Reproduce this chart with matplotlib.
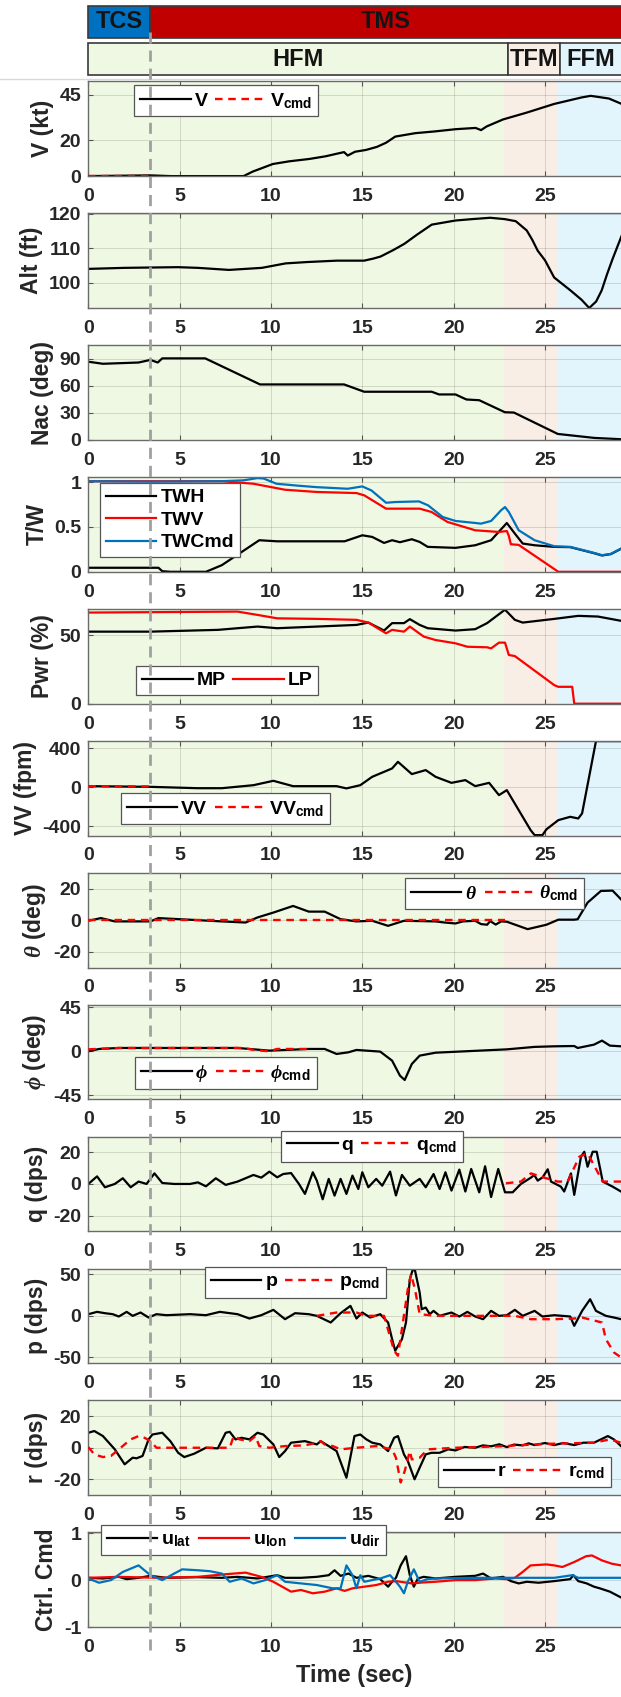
import numpy as np
import matplotlib.pyplot as plt
from matplotlib.patches import Rectangle
from matplotlib.lines import Line2D
from matplotlib.ticker import FuncFormatter

plt.rcParams['font.family'] = ['Liberation Sans', 'DejaVu Sans']
plt.rcParams['font.weight'] = 'bold'
plt.rcParams['axes.labelweight'] = 'bold'
plt.rcParams['axes.unicode_minus'] = False
plt.rcParams['mathtext.fontset'] = 'custom'
plt.rcParams['mathtext.rm'] = 'Liberation Sans:bold'
plt.rcParams['mathtext.bf'] = 'Liberation Sans:bold'
plt.rcParams['mathtext.sf'] = 'Liberation Sans:bold'
plt.rcParams['mathtext.it'] = 'Liberation Serif:italic'

# ---- phases / modes ----
mode_names = ['TCS', 'TMS']
mode_start = [0, 3.4]
mode_end = [3.4, 30]
mode_colors = ['#0070C0', '#C00000']

phase_names = ['HFM', 'TFM', 'FFM']
phase_box_start = [0, 22.98, 25.8]
phase_box_end = [22.98, 25.8, 30]
shade_start = [0, 22.77, 25.65]
shade_end = [22.77, 25.65, 30]
phase_colors = ['#EFF8E3', '#F8EEE5', '#E2F4FC']
switch_time = 3.4
t_max = 29.16

# ---- V (kt) ----
t_V = [0, 3.4, 4.5, 8.5, 9.0, 10.1, 11.0, 12.1, 13.0, 13.6, 14.0, 14.2, 14.6, 15.2, 15.8, 16.3,
       16.8, 17.9, 19.0, 20.1, 21.2, 21.5, 21.8, 22.7, 24.0, 25.5, 27.0, 27.5, 28.5, 29.2]
V = [0, 0.4, 0, 0, 2.5, 6.7, 8.2, 9.5, 11, 12.4, 13.3, 11.4, 13.5, 14.5, 16.2, 18.5,
     21.9, 23.8, 24.8, 26.0, 26.7, 25.5, 27.5, 31.4, 35.2, 40.0, 43.6, 44.5, 43.0, 40.0]
t_Vcmd = [0, 3.4]
Vcmd = [0, 0]

# ---- Alt (ft) ----
t_alt = [0, 2, 4.9, 6, 7.7, 9.5, 10.8, 12, 13.6, 15.1, 15.6, 16.0, 16.7, 17.3, 18.0, 18.8, 20.1,
         21.0, 22.0, 22.8, 23.4, 24.0, 24.3, 24.6, 25.0, 25.5, 26.4, 27.0, 27.42, 27.8, 28.1, 28.4,
         28.7, 29.0, 29.2]
alt = [104.0, 104.3, 104.5, 104.3, 103.7, 104.3, 105.6, 106.0, 106.4, 106.4, 107.0, 107.6, 109.5,
       111.3, 114.0, 116.9, 118.1, 118.5, 118.9, 118.5, 117.9, 115.2, 112.5, 109.3, 106.5, 101.5,
       97.7, 95.0, 92.6, 94.5, 97.7, 102.5, 106.9, 111.0, 113.7]

# ---- Nacelle (deg) ----
t_nac = [0, 0.8, 2.75, 3.4, 3.8, 4.05, 6.4, 9.4, 14.0, 15.1, 18.8, 19.2, 20.1, 20.7, 21.4, 22.8,
         23.3, 25.7, 27.7, 29.2]
nac = [86.7, 84.4, 85.8, 88.7, 85.8, 90.4, 90.4, 61.5, 61.5, 53.4, 53.4, 50.4, 50.4, 44.8, 44.0,
       30.7, 30.3, 6.6, 2.2, 0.7]

# ---- T/W ----
t_twc = [0, 3.4, 7.3, 8.5, 9.26, 9.6, 10.3, 11.5, 12.5, 14.2, 15.0, 15.5, 16.3, 16.8, 18.1, 18.6,
         19.4, 20.1, 21.2, 21.5, 22.05, 22.59, 22.81, 23.02, 23.56, 24.43, 25.51, 26.38, 27.68,
         28.12, 28.6, 29.16]
twc = [1.01, 1.005, 1.01, 1.02, 1.045, 1.04, 0.982, 0.96, 0.944, 0.926, 0.952, 0.907, 0.77, 0.778,
       0.785, 0.741, 0.611, 0.567, 0.544, 0.537, 0.567, 0.685, 0.722, 0.667, 0.463, 0.352, 0.285,
       0.278, 0.211, 0.185, 0.2, 0.259]
t_twv = [0, 7.3, 9.04, 10.77, 12.51, 14.68, 15.11, 16.3, 18.14, 18.79, 19.66, 21.18, 22.48, 22.91,
         23.02, 23.13, 23.56, 25.73, 29.16]
twv = [1.01, 1.01, 0.982, 0.915, 0.89, 0.878, 0.852, 0.704, 0.704, 0.667, 0.556, 0.463, 0.444,
       0.455, 0.40, 0.307, 0.30, 0.0, 0.0]
t_twh = [0, 3.84, 4.05, 4.49, 6.44, 7.31, 9.36, 10.34, 14.03, 15.0, 15.54, 16.19, 16.63, 17.06,
         17.71, 18.14, 18.58, 20.1, 21.18, 22.05, 22.91, 23.35, 23.78, 24.43, 25.51, 26.38, 27.68,
         28.12, 28.6, 29.16]
twh = [0.045, 0.045, 0.007, 0.0, 0.0, 0.074, 0.352, 0.34, 0.34, 0.407, 0.389, 0.322, 0.352, 0.33,
       0.363, 0.333, 0.278, 0.267, 0.296, 0.352, 0.544, 0.426, 0.315, 0.296, 0.278, 0.275, 0.208,
       0.182, 0.197, 0.256]

# ---- Power (%) ----
t_lp = [0, 8.17, 9.26, 10.34, 12.51, 14.68, 15.33, 16.3, 16.63, 17.28, 17.6, 18.36, 19.01, 20.1,
        20.75, 21.83, 22.05, 22.48, 22.81, 23.02, 23.35, 25.51, 25.73, 26.49, 26.6, 29.16]
lp = [66.4, 67.1, 64.7, 62.2, 61.8, 61.1, 59.1, 51.3, 53.8, 52.5, 56.2, 48.9, 46.4, 44.0, 41.5,
      41.1, 40.3, 44.5, 44.5, 35.5, 34.7, 13.5, 12.3, 12.3, 0.0, 0.0]
t_mp = [0, 3.4, 7.09, 9.26, 10.34, 14.68, 15.33, 16.19, 16.63, 17.28, 17.6, 18.14, 18.58, 20.1,
        21.18, 21.83, 22.81, 23.35, 23.78, 25.51, 26.82, 27.9, 29.16]
mp = [52.5, 52.5, 53.8, 56.2, 55.0, 57.4, 59.1, 53.3, 58.7, 58.7, 61.6, 57.4, 55.0, 53.3, 54.3,
      58.7, 68.5, 61.1, 59.1, 61.8, 64.0, 63.5, 60.4]

# ---- VV (fpm) ----
t_vv = [0, 3.4, 6.0, 7.31, 9.04, 10.13, 11.21, 13.59, 14.13, 14.89, 15.54, 16.63, 16.95, 17.71,
        18.47, 19.01, 19.88, 20.64, 21.18, 21.94, 22.48, 22.91, 24.21, 24.43, 24.86, 25.08, 25.73,
        26.38, 26.82, 27.03, 27.79, 29.16]
vv = [13, 6, -8, -8, 23, 68, 13, 13, -10, 23, 109, 195, 263, 137, 178, 109, 47, 75, 13, 47, -79,
      -28, -438, -490, -490, -430, -336, -302, -319, -267, 476, 476]
t_vvcmd = [0, 3.4]
vvcmd = [13, 10]

# ---- theta (deg) ----
t_th = [0, 0.69, 1.45, 3.4, 3.84, 6.0, 7.31, 8.61, 9.26, 10.13, 11.21, 12.07, 12.94, 13.81, 14.68,
        15.54, 16.41, 17.28, 19.01, 19.5, 20.1, 20.5, 21.18, 21.5, 21.83, 22.0, 22.3, 22.6, 22.91,
        24.05, 25.08, 25.73, 26.6, 26.79, 27.33, 28.06, 28.7, 29.16]
th = [-0.4, 1.3, -0.8, -0.8, 1.3, 0, -0.8, -1.5, 1.7, 4.8, 9.0, 5.4, 5.4, 0.6, -0.8, -0.4, -3.6,
      -0.4, -0.8, -1.5, -2.1, -0.8, -0.4, -2.5, -2.9, -0.6, -2.8, -0.8, -1.0, -5.7, -2.9, 0.3, 0.3,
      0.6, 11.1, 18.5, 18.7, 13.2]
t_thcmd = [0, 22.8]
thcmd = [0, 0]

# ---- phi (deg) ----
t_ph = [0, 0.59, 1.67, 8.17, 9.91, 12.07, 12.94, 13.59, 14.24, 14.68, 15.98, 16.63, 17.06, 17.32,
        17.71, 18.14, 19.01, 21.18, 22.91, 24.43, 25.51, 26.6, 26.79, 27.68, 28.12, 28.55, 29.16]
ph = [0, 2.4, 3.4, 3.4, 0.7, 2.4, 2.4, -2.7, -1.0, 1.4, -0.3, -9.5, -24.8, -29.2, -12.9, -4.4,
      -1.4, 0.5, 2.0, 4.5, 5.1, 5.4, 3.4, 6.8, 10.9, 5.8, 5.1]
t_phcmd = [0, 1.67, 8.5, 9.04, 9.9, 10.34, 12.07]
phcmd = [2.0, 3.4, 3.4, 1.5, 0.0, 2.4, 2.4]

# ---- q (dps) ----
t_q = [0, 0.48, 0.91, 1.45, 1.89, 2.32, 2.75, 3.19, 3.62, 4.05, 4.70, 5.57, 6.0, 6.44, 6.98, 7.52,
       8.17, 9.04, 9.47, 9.91, 10.34, 10.67, 11.10, 11.53, 11.86, 12.29, 12.51, 12.83, 13.16, 13.48,
       13.81, 14.13, 14.46, 14.78, 15.0, 15.33, 15.76, 16.09, 16.52, 16.84, 17.17, 17.60, 18.14,
       18.47, 18.90, 19.23, 19.55, 19.88, 20.31, 20.64, 20.96, 21.40, 21.72, 22.05, 22.44, 22.81,
       23.23, 23.68, 24.23, 24.41, 24.6, 24.87, 25.15, 25.33, 25.87, 26.05, 26.42, 26.6, 26.97,
       27.15, 27.33, 27.61, 27.83, 28.16, 28.7, 29.16]
q = [0, 4.8, -2.1, 0, 3.6, -2.1, 1.5, 0, 6.7, 0.6, 0, 0, 1.0, -1.5, 3.6, -0.6, 1.5, 5.7, 4.0, 7.8,
     4.2, 6.3, 6.9, 0, -6.3, 7.4, 2.1, -9.7, 3.2, -7.4, 3.2, -6.3, 5.3, -3.2, 7.4, -2.1, 3.2, -1.1,
     7.8, -7.3, 5.7, -1.1, 3.2, -2.1, 6.3, -3.2, 7.4, -4.2, 9.1, -4.8, 9.5, -5.3, 11.2, -8.3, 9.5,
     -5.3, -5.3, 0, 4.0, 5.7, 2.1, 4.2, 9.3, 1.5, -1.7, -4.8, 6.7, -6.9, 17.3, 20.4, 10.9, 20.4,
     20.4, 1.5, -1.7, -4.8]
t_qcmd = [22.86, 23.68, 24.23, 24.78, 25.69, 26.24, 26.88, 27.33, 28.16, 29.16]
qcmd = [0.4, 1.5, 6.7, 4.6, 1.5, 1.5, 17.3, 19.4, 1.5, 1.5]

# ---- p (dps) ----
t_p = [0, 0.48, 0.91, 1.34, 1.67, 2.10, 2.43, 2.86, 3.30, 3.73, 4.27, 5.57, 6.44, 7.20, 8.17, 8.82,
       9.47, 10.13, 10.77, 11.32, 12.07, 12.51, 13.27, 13.81, 14.35, 14.68, 15.0, 15.43, 15.98,
       16.41, 16.63, 16.80, 17.17, 17.39, 17.60, 17.75, 17.88, 18.14, 18.25, 18.47, 18.69, 18.90,
       19.23, 19.88, 20.31, 20.75, 21.18, 21.61, 22.05, 22.48, 22.91, 23.35, 23.78, 24.43, 24.86,
       25.51, 26.38, 26.60, 27.03, 27.47, 27.79, 28.33, 28.77, 29.16]
p = [2, 4.8, 3.2, 2, -0.8, 4.8, 0, 4, -2, 2, 0.8, 2, 0.8, 4.8, 2, -3.2, 0.8, 7.2, -4, 3.2, 2, 0,
     -8, 3.2, 12, -3.2, 4, -2, 2, -8, -28, -42, -28, -8, 44, 55, 55, 28, 8, 10, 2, 6, 0, 4, -0.8,
     4.8, -0.8, -4, 6, 0, 0.8, 7.2, 0, 6, -0.8, 0.8, -0.8, -12, 6, 20, 6, 0, -2, -4]
t_pcmd = [12.51, 13.59, 14.68, 15.22, 16.19, 16.74, 16.95, 17.49, 17.67, 17.88, 18.14, 19.01, 23.35,
          24.21, 25.51, 26.60, 27.03, 28.12, 28.33, 28.77, 29.16]
pcmd = [0, 4, 4, 0, 0, -42, -48, 32, 50, 32, 2, 0, 0, -4, -4, -3.2, -2, -8, -28, -44, -50]

# ---- r (dps) ----
t_r = [0, 0.33, 0.80, 1.45, 1.99, 2.43, 2.64, 2.97, 3.30, 3.51, 4.05, 4.49, 4.92, 5.25, 5.79, 6.44,
       7.09, 7.52, 7.74, 8.06, 8.39, 8.82, 9.26, 9.58, 10.13, 10.45, 10.77, 11.10, 11.86, 12.51,
       12.72, 13.16, 13.59, 14.13, 14.57, 14.89, 15.22, 15.54, 15.98, 16.41, 16.74, 16.95, 17.28,
       17.49, 17.86, 18.14, 18.47, 18.79, 19.23, 19.7, 20.10, 20.6, 21.18, 21.6, 22.05, 22.5, 22.91,
       23.3, 23.78, 24.1, 24.43, 25.0, 25.51, 26.0, 26.60, 27.1, 27.68, 28.44, 28.77, 29.16]
r = [9.5, 10.6, 7.4, -1.0, -10.5, -6.3, -6.7, -5.2, 5.3, 8.4, 9.5, 4.2, -3.2, -5.9, -3.8, 0, -0.4,
     9.5, 10.1, 5.3, 6.3, 5.3, 9.5, 8.4, 2.1, -5.9, -2.1, 3.2, 4.2, 2.1, 4.2, 1.05, -2.1, -19, 7.4,
     8.4, 5.3, 3.2, 2.1, -2.1, 6.3, 7.4, -4.2, -8.4, -20, -12.6, -4.2, -3.2, -3.2, -1.0, -1.7, 0.5,
     0, 1.5, 0.9, 2.2, 0.4, 2.0, 1.5, 2.8, 1.7, 3.0, 1.7, 3.0, 1.7, 3.2, 3.2, 7.4, 5.3, 1.05]
t_rcmd = [0, 0.33, 0.80, 1.24, 1.67, 2.32, 2.75, 3.08, 3.40, 3.73, 4.49, 7.31, 7.74, 7.96, 8.28,
          8.82, 9.15, 9.36, 9.91, 10.77, 11.86, 12.51, 12.72, 12.94, 13.38, 13.81, 14.68, 15.76,
          16.63, 16.84, 17.10, 17.32, 17.60, 17.71, 18.14, 18.58, 20.10, 22.91, 23.35, 25.51, 27.68,
          28.55, 29.16]
rcmd = [0.4, -4.2, -5.9, -5.2, -1.0, 5.3, 7.4, 6.3, 4.2, 0, 0, 0, 0, 7.4, 5.3, 4.2, 7.4, 1.05, 0,
        1.05, 1.5, 3.2, 4.2, 2.1, 1.05, -1.0, 0, 1.05, -1.0, -6.3, -22, -14.8, -2.1, -7.4, -6.3,
        -1.0, 0, 1.05, 1.5, 2.6, 3.2, 5.3, 3.2]

# ---- control commands ----
t_ulat = [0, 0.8, 1.67, 2.10, 2.75, 3.40, 4.27, 6.0, 7.31, 8.17, 9.26, 10.34, 10.77, 11.64, 12.51,
          13.16, 13.48, 13.81, 14.24, 14.68, 15.33, 15.98, 16.41, 16.63, 16.84, 17.10, 17.39, 17.60,
          17.82, 18.04, 18.36, 19.01, 20.10, 21.18, 21.61, 22.05, 22.70, 23.13, 23.56, 24.0, 24.65,
          25.51, 26.38, 26.55, 26.82, 27.28, 27.68, 28.0, 28.55, 29.16]
ulat = [0.049, 0.035, 0.07, 0.021, 0.049, 0.091, 0.049, 0.063, 0.049, 0.07, 0.035, 0.105, 0.049,
        0.049, 0.07, 0.105, 0.21, 0.091, 0.14, 0.049, 0.091, 0.021, -0.14, -0.035, 0.049, 0.314,
        0.51, 0.105, -0.14, 0.035, 0.07, 0.035, 0.07, 0.091, 0.14, 0.035, 0.07, -0.021, -0.07,
        -0.035, -0.056, -0.021, 0.021, 0.105, -0.021, -0.07, -0.14, -0.175, -0.246, -0.37]
t_ulon = [0, 1.67, 3.84, 6.0, 7.31, 8.61, 9.47, 10.13, 10.77, 11.10, 11.64, 12.29, 12.94, 13.59,
          14.03, 14.46, 15.11, 15.76, 16.41, 16.84, 17.71, 18.36, 19.01, 20.10, 21.18, 22.26, 22.91,
          23.35, 23.78, 24.21, 25.08, 25.51, 25.95, 26.60, 27.25, 27.57, 28.12, 28.66, 29.16]
ulon = [0.049, 0.07, 0.049, 0.07, 0.119, 0.16, 0.07, -0.035, -0.175, -0.246, -0.21, -0.281, -0.246,
        -0.175, -0.23, -0.175, -0.14, -0.105, -0.035, -0.021, -0.07, -0.049, -0.035, 0.0, 0.0, 0.035,
        0.021, 0.049, 0.175, 0.314, 0.335, 0.314, 0.28, 0.386, 0.51, 0.526, 0.42, 0.35, 0.314]
t_udir = [0, 0.59, 1.24, 1.89, 2.75, 3.40, 4.05, 4.70, 5.14, 6.0, 6.66, 7.31, 7.74, 8.39, 9.04, 9.69,
          10.34, 10.77, 11.64, 12.51, 13.38, 13.81, 14.13, 14.46, 14.68, 14.89, 15.11, 15.54, 15.98,
          16.52, 16.84, 17.06, 17.28, 17.49, 17.82, 18.14, 18.58, 19.01, 21.18, 23.35, 25.51, 26.49,
          26.82, 29.16]
udir = [0.035, -0.056, 0.0, 0.175, 0.314, 0.105, 0.0, 0.14, 0.23, 0.21, 0.19, 0.14, -0.035, 0.035,
        -0.07, 0.0, 0.105, -0.035, -0.07, -0.105, -0.175, -0.175, 0.314, 0.105, -0.175, 0.105,
        -0.035, 0.0, 0.035, 0.105, -0.035, -0.14, -0.281, -0.035, 0.23, -0.035, 0.021, 0.035, 0.049,
        0.049, 0.049, 0.105, 0.049, 0.049]

BLACK, RED, BLUE = 'black', '#FF0000', '#0072BD'

panels = [
    dict(ylabel='V (kt)', ylim=(0, 52.5), yticks=[0, 20, 45],
         lines=[(t_V, V, BLACK, '-', 'V'), (t_Vcmd, Vcmd, RED, '--', r'V$_{\mathrm{cmd}}$')],
         leg=(0.086, 0.962), ncol=2),
    dict(ylabel='Alt (ft)', ylim=(92.6, 120.2), yticks=[100, 110, 120],
         lines=[(t_alt, alt, BLACK, '-', None)], leg=None),
    dict(ylabel='Nac (deg)', ylim=(0, 105), yticks=[0, 30, 60, 90],
         lines=[(t_nac, nac, BLACK, '-', None)], leg=None),
    dict(ylabel='T/W', ylim=(0, 1.056), yticks=[0, 0.5, 1],
         lines=[(t_twh, twh, BLACK, '-', 'TWH'), (t_twv, twv, RED, '-', 'TWV'),
                (t_twc, twc, BLUE, '-', 'TWCmd')],
         leg=(0.022, 0.938), ncol=1),
    dict(ylabel='Pwr (%)', ylim=(0, 69), yticks=[0, 50],
         lines=[(t_mp, mp, BLACK, '-', 'MP'), (t_lp, lp, RED, '-', 'LP')],
         leg=(0.09, 0.398), ncol=2),
    dict(ylabel='VV (fpm)', ylim=(-495, 478), yticks=[-400, 0, 400],
         lines=[(t_vv, vv, BLACK, '-', 'VV'), (t_vvcmd, vvcmd, RED, '--', r'VV$_{\mathrm{cmd}}$')],
         leg=(0.061, 0.45), ncol=2),
    dict(ylabel=r'$\theta$ (deg)', ylim=(-30, 30), yticks=[-20, 0, 20],
         lines=[(t_th, th, BLACK, '-', r'$\theta$'),
                (t_thcmd, thcmd, RED, '--', r'$\theta_{\mathrm{cmd}}$')],
         leg=(0.594, 0.948), ncol=2),
    dict(ylabel=r'$\phi$ (deg)', ylim=(-49, 47.5), yticks=[-45, 0, 45],
         lines=[(t_ph, ph, BLACK, '-', r'$\phi$'),
                (t_phcmd, phcmd, RED, '--', r'$\phi_{\mathrm{cmd}}$')],
         leg=(0.088, 0.451), ncol=2),
    dict(ylabel='q (dps)', ylim=(-30, 30), yticks=[-20, 0, 20],
         lines=[(t_q, q, BLACK, '-', 'q'), (t_qcmd, qcmd, RED, '--', r'q$_{\mathrm{cmd}}$')],
         leg=(0.362, 1.062), ncol=2),
    dict(ylabel='p (dps)', ylim=(-57, 57), yticks=[-50, 0, 50],
         lines=[(t_p, p, BLACK, '-', 'p'), (t_pcmd, pcmd, RED, '--', r'p$_{\mathrm{cmd}}$')],
         leg=(0.219, 1.016), ncol=2),
    dict(ylabel='r (dps)', ylim=(-30, 30), yticks=[-20, 0, 20],
         lines=[(t_r, r, BLACK, '-', 'r'), (t_rcmd, rcmd, RED, '--', r'r$_{\mathrm{cmd}}$')],
         leg=(0.656, 0.402), ncol=2),
    dict(ylabel='Ctrl. Cmd', ylim=(-1, 1.02), yticks=[-1, 0, 1],
         lines=[(t_ulat, ulat, BLACK, '-', r'u$_{\mathrm{lat}}$'),
                (t_ulon, ulon, RED, '-', r'u$_{\mathrm{lon}}$'),
                (t_udir, udir, BLUE, '-', r'u$_{\mathrm{dir}}$')],
         leg=(0.024, 1.077), ncol=3),
]

W, H = 621, 1697
fig = plt.figure(figsize=(W / 100, H / 100), dpi=100)

left_px, top0_px, pitch_px, h_px = 88.3, 81.4, 131.9, 94.7
left = left_px / W
width = 1 - left
fmt = FuncFormatter(lambda v, pos: '%g' % v)

axes = []
for k, pn in enumerate(panels):
    top_px = top0_px + pitch_px * k
    ax = fig.add_axes([left, 1 - (top_px + h_px) / H, width, h_px / H])
    for s0, s1, c in zip(shade_start, shade_end, phase_colors):
        ax.axvspan(s0, s1, color=c, lw=0, zorder=0)
    for tt, vals, c, ls, lab in pn['lines']:
        if ls == '--':
            ax.plot(tt, vals, color=c, lw=1.7, ls=(0, (3.2, 2.4)), label=lab, zorder=3)
        else:
            ax.plot(tt, vals, color=c, lw=1.6, label=lab, zorder=2)
    ax.set_xlim(0, t_max)
    ax.set_ylim(*pn['ylim'])
    ax.set_xticks([0, 5, 10, 15, 20, 25])
    ax.set_yticks(pn['yticks'])
    ax.yaxis.set_major_formatter(fmt)
    ax.set_axisbelow(True)
    ax.grid(True, color='black', alpha=0.13, lw=0.7)
    ax.tick_params(direction='in', length=3.5, width=0.8, color='#555555', top=True,
                   labelsize=14, labelcolor='#262626')
    ax.tick_params(axis='x', pad=8.5)
    ax.tick_params(axis='y', pad=5)
    for side in ['left', 'top', 'bottom']:
        ax.spines[side].set_color('#6a6a6a')
        ax.spines[side].set_linewidth(1.0)
    ax.spines['right'].set_visible(False)
    ax.set_ylabel(pn['ylabel'], fontsize=16.5, color='#262626', labelpad=4)
    if pn['leg'] is not None:
        lg = ax.legend(loc='upper left', bbox_to_anchor=pn['leg'], ncol=pn['ncol'],
                       fontsize=14, frameon=True, fancybox=False, framealpha=1,
                       edgecolor='#555555', borderpad=0.3, handlelength=2.6,
                       handletextpad=0.2, columnspacing=0.4, labelspacing=0.25,
                       borderaxespad=0)
        lg.get_frame().set_linewidth(0.9)
        lg.set_zorder(5)
    axes.append(ax)

axes[-1].set_xlabel('Time (sec)', fontsize=17, color='#262626', labelpad=6)

# ---- top banner with modes and phases ----
bax = fig.add_axes([left, 1 - 80 / H, width, 80 / H])
bax.set_xlim(0, t_max)
bax.set_ylim(80, 0)
bax.axis('off')
for name, s0, s1, c in zip(mode_names, mode_start, mode_end, mode_colors):
    bax.add_patch(Rectangle((s0, 5.5), s1 - s0, 32.2, facecolor=c, edgecolor='#3a3a3a',
                            lw=1.2, clip_on=False))
    bax.text((s0 + min(s1, t_max)) / 2, 22, name, ha='center', va='center', fontsize=17,
             color='#141414')
for name, s0, s1, c in zip(phase_names, phase_box_start, phase_box_end, phase_colors):
    bax.add_patch(Rectangle((s0, 42.7), s1 - s0, 32.6, facecolor=c, edgecolor='#3a3a3a',
                            lw=1.2, clip_on=False))
    bax.text((s0 + min(s1, t_max)) / 2, 59.5, name, ha='center', va='center', fontsize=17,
             color='#141414')

fig.add_artist(Line2D([0, 1], [1 - 79 / H] * 2, color='#d9d9d9', lw=1.0,
                      transform=fig.transFigure))

# ---- dashed line at the TCS -> TMS switch ----
xs = left + switch_time / t_max * width
fig.add_artist(Line2D([xs, xs], [1 - 32 / H, 1 - 1650 / H], color='#a0a0a0', lw=2.0,
                      ls=(0, (4, 2.5)), transform=fig.transFigure, zorder=10))

fig.savefig('out.png', dpi=100)
